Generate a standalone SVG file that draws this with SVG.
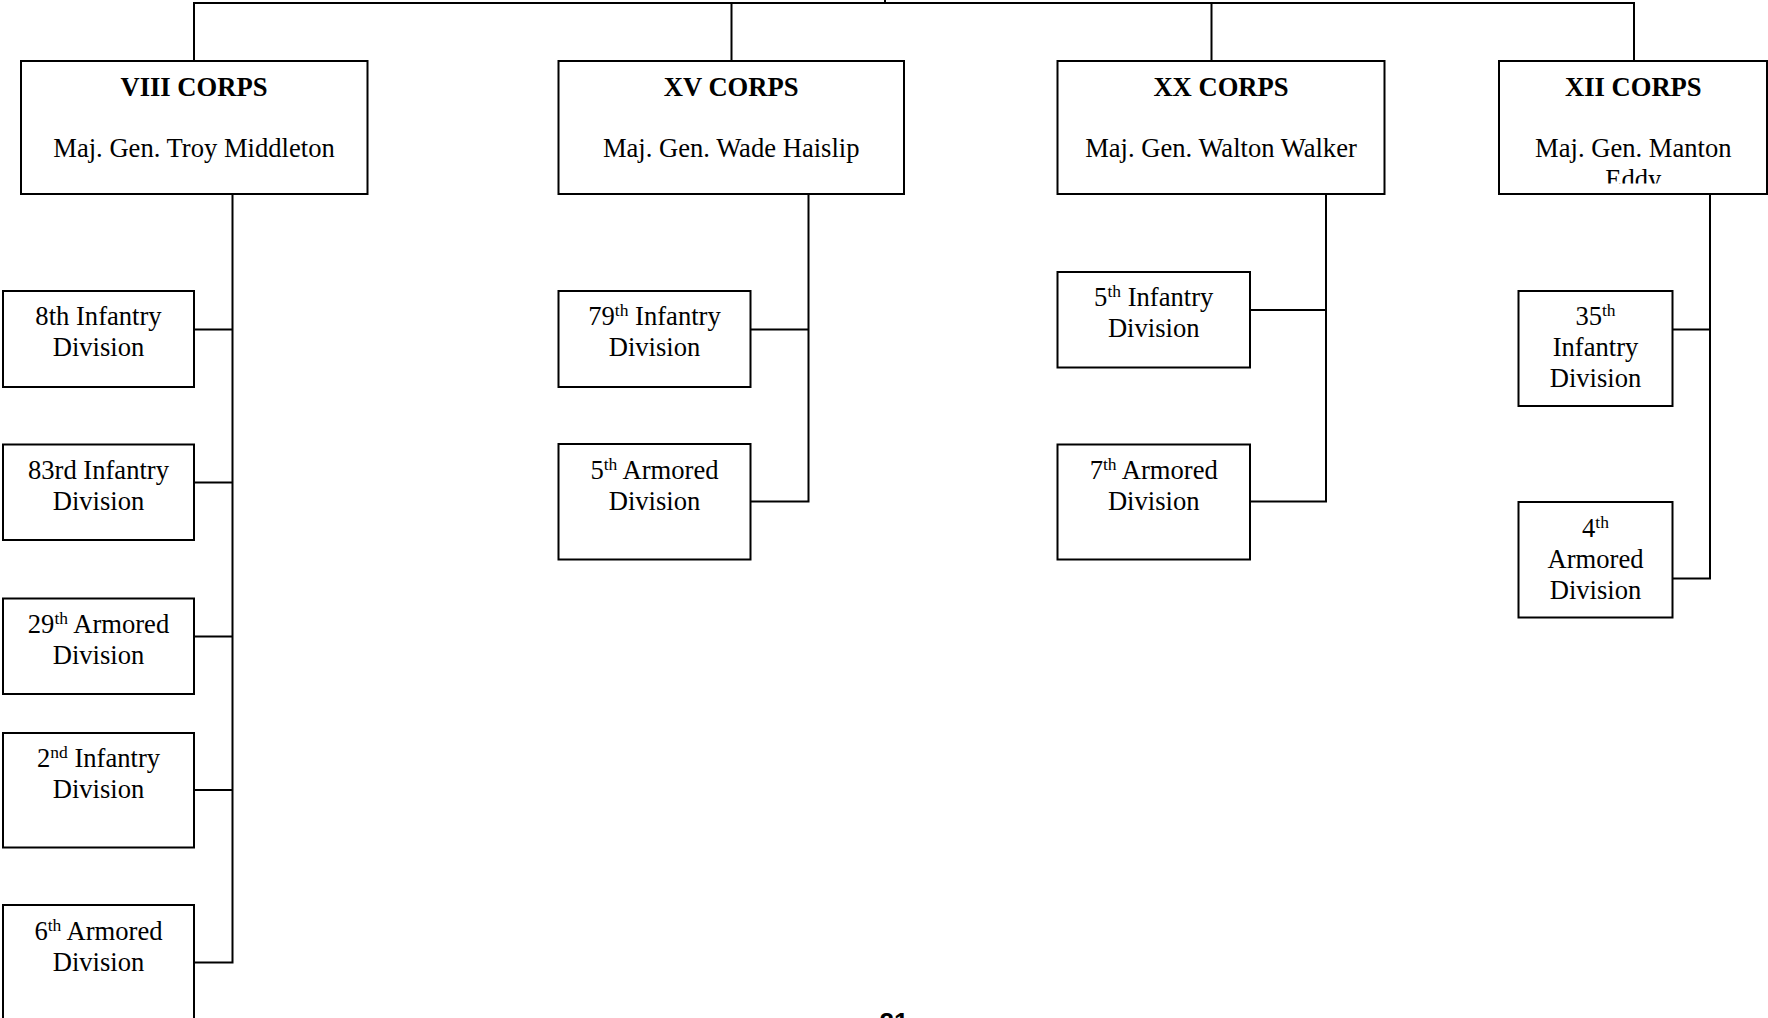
<svg xmlns="http://www.w3.org/2000/svg" width="1768" height="1018" viewBox="0 0 1768 1018">
  <style>
    .box { fill: #ffffff; stroke: #000000; stroke-width: 2; }
    .wire { fill: none; stroke: #000000; stroke-width: 2; }
    text { font-family: "Liberation Serif", "Times New Roman", serif; font-size: 26.6px; fill: #000000; text-anchor: middle; }
    .title { font-weight: bold; }
    .sup { font-size: 17.5px; }
    .page { font-family: "Liberation Sans", Arial, sans-serif; font-weight: bold; font-size: 26px; }
  </style>
  <defs>
    <clipPath id="xii-clip">
      <rect x="1499" y="61" width="269" height="122.5"/>
    </clipPath>
  </defs>

  <rect width="1768" height="1018" fill="#ffffff"/>

  <!-- connectors -->
  <g id="connectors" class="wire">
    <path d="M885 0 V3"/>
    <path d="M194 61 V3 H1634 V61"/>
    <path d="M731.5 3 V61"/>
    <path d="M1211.5 3 V61"/>
    <!-- VIII Corps branch -->
    <path d="M232.5 194 V962.5 H194"/>
    <path d="M194 329.5 H232.5"/>
    <path d="M194 482.5 H232.5"/>
    <path d="M194 636.5 H232.5"/>
    <path d="M194 790 H232.5"/>
    <!-- XV Corps branch -->
    <path d="M808.5 194 V501.5 H750.5"/>
    <path d="M750.5 329.5 H808.5"/>
    <!-- XX Corps branch -->
    <path d="M1326 194 V501.5 H1250"/>
    <path d="M1250 310 H1326"/>
    <!-- XII Corps branch -->
    <path d="M1710 194 V578.5 H1672.5"/>
    <path d="M1672.5 329.5 H1710"/>
  </g>

  <!-- corps headquarters -->
  <g id="viii-corps">
    <rect class="box" x="21" y="61" width="346.5" height="133"/>
    <text class="title" x="194" y="96">VIII CORPS</text>
    <text x="194" y="156.7">Maj. Gen. Troy Middleton</text>
  </g>
  <g id="xv-corps">
    <rect class="box" x="558.5" y="61" width="345.5" height="133"/>
    <text class="title" x="731.2" y="96">XV CORPS</text>
    <text x="731.2" y="156.7">Maj. Gen. Wade Haislip</text>
  </g>
  <g id="xx-corps">
    <rect class="box" x="1057.5" y="61" width="327" height="133"/>
    <text class="title" x="1221" y="96">XX CORPS</text>
    <text x="1221" y="156.7">Maj. Gen. Walton Walker</text>
  </g>
  <g id="xii-corps">
    <rect class="box" x="1499" y="61" width="268" height="133"/>
    <g clip-path="url(#xii-clip)">
      <text class="title" x="1633.3" y="96">XII CORPS</text>
      <text x="1633.3" y="156.7">Maj. Gen. Manton</text>
      <text x="1633.3" y="187.7">Eddy</text>
    </g>
  </g>

  <!-- VIII Corps divisions -->
  <g id="div-8th-inf">
    <rect class="box" x="3" y="291" width="191" height="96"/>
    <text x="98.5" y="325.3">8th Infantry</text>
    <text x="98.5" y="356.3">Division</text>
  </g>
  <g id="div-83rd-inf">
    <rect class="box" x="3" y="444.5" width="191" height="95.5"/>
    <text x="98.5" y="479">83rd Infantry</text>
    <text x="98.5" y="510">Division</text>
  </g>
  <g id="div-29th-arm">
    <rect class="box" x="3" y="598.5" width="191" height="95.5"/>
    <text x="98.5" y="633">29<tspan class="sup" dy="-9">th</tspan><tspan dy="9"> Armored</tspan></text>
    <text x="98.5" y="664">Division</text>
  </g>
  <g id="div-2nd-inf">
    <rect class="box" x="3" y="733" width="191" height="114.5"/>
    <text x="98.5" y="767">2<tspan class="sup" dy="-9">nd</tspan><tspan dy="9"> Infantry</tspan></text>
    <text x="98.5" y="798">Division</text>
  </g>
  <g id="div-6th-arm">
    <rect class="box" x="3" y="905" width="191" height="130"/>
    <text x="98.5" y="940">6<tspan class="sup" dy="-9">th</tspan><tspan dy="9"> Armored</tspan></text>
    <text x="98.5" y="971">Division</text>
  </g>

  <!-- XV Corps divisions -->
  <g id="div-79th-inf">
    <rect class="box" x="558.5" y="291" width="192" height="96"/>
    <text x="654.5" y="325.3">79<tspan class="sup" dy="-9">th</tspan><tspan dy="9"> Infantry</tspan></text>
    <text x="654.5" y="356.3">Division</text>
  </g>
  <g id="div-5th-arm">
    <rect class="box" x="558.5" y="444" width="192" height="115.5"/>
    <text x="654.5" y="479">5<tspan class="sup" dy="-9">th</tspan><tspan dy="9"> Armored</tspan></text>
    <text x="654.5" y="510">Division</text>
  </g>

  <!-- XX Corps divisions -->
  <g id="div-5th-inf">
    <rect class="box" x="1057.5" y="272" width="192.5" height="95.5"/>
    <text x="1153.7" y="306">5<tspan class="sup" dy="-9">th</tspan><tspan dy="9"> Infantry</tspan></text>
    <text x="1153.7" y="337">Division</text>
  </g>
  <g id="div-7th-arm">
    <rect class="box" x="1057.5" y="444.5" width="192.5" height="115"/>
    <text x="1153.7" y="479">7<tspan class="sup" dy="-9">th</tspan><tspan dy="9"> Armored</tspan></text>
    <text x="1153.7" y="510">Division</text>
  </g>

  <!-- XII Corps divisions -->
  <g id="div-35th-inf">
    <rect class="box" x="1518.5" y="291" width="154" height="115"/>
    <text x="1595.5" y="325">35<tspan class="sup" dy="-9">th</tspan></text>
    <text x="1595.5" y="356">Infantry</text>
    <text x="1595.5" y="387">Division</text>
  </g>
  <g id="div-4th-arm">
    <rect class="box" x="1518.5" y="502" width="154" height="115.5"/>
    <text x="1595.5" y="536.7">4<tspan class="sup" dy="-9">th</tspan></text>
    <text x="1595.5" y="567.7">Armored</text>
    <text x="1595.5" y="598.7">Division</text>
  </g>

  <!-- page number -->
  <text class="page" x="894" y="1031">21</text>
</svg>
